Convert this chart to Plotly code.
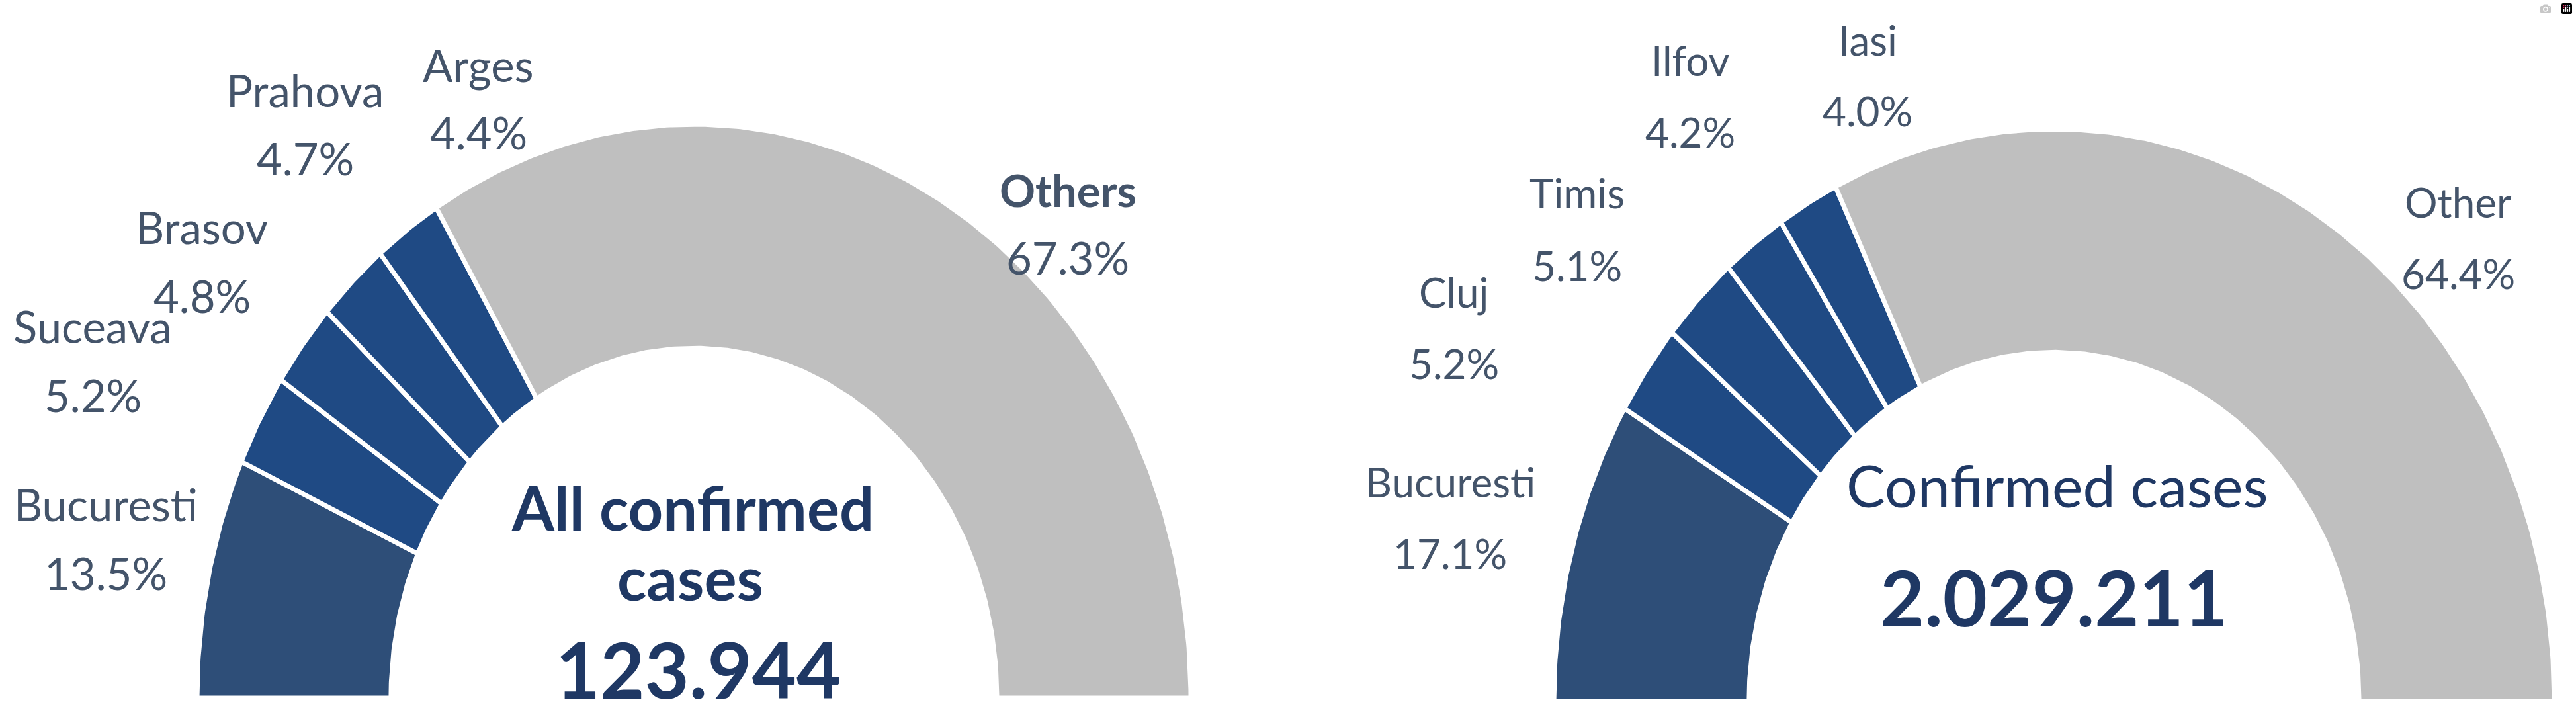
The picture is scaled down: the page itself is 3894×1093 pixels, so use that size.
import numpy as np
import plotly.graph_objects as go

# ---------------- data ----------------
left_regions = ["Bucuresti", "Suceava", "Brasov", "Prahova", "Arges", "Others"]
left_shares = [13.5, 5.2, 4.8, 4.7, 4.4, 67.3]
left_title = ["All confirmed", "cases"]
left_total = "123.944"

right_regions = ["Bucuresti", "Cluj", "Timis", "Ilfov", "Iasi", "Other"]
right_shares = [17.1, 5.2, 5.1, 4.2, 4.0, 64.4]
right_title = "Confirmed cases"
right_total = "2.029.211"

# ---------------- style / layout constants ----------------
W, H = 3894, 1093
COL_FIRST = "#2E4E78"
COL_BLUE = "#1F4A84"
COL_GREY = "#BFBFBF"
LABEL_COL = "#44546A"
TITLE_COL = "#1F3864"
FONT = "Lato"

left_geo = dict(cx=1049, cy=1055, rx=751, ry=867, hole=0.61)
right_geo = dict(cx=3105, cy=1060, rx=756, ry=865, hole=0.61)

# label placement: (x centre, y of name line, y of percentage line)
left_label_pos = [(160, 762, 866), (140, 493, 597), (305, 343, 447),
                  (461, 136, 239), (723, 98, 200), (1614, 287, 389)]
right_label_pos = [(2192, 728, 836), (2198, 441, 549), (2384, 291, 401),
                   (2555, 91, 199), (2823, 60, 167), (3716, 305, 413)]


def slice_colors(n):
    return [COL_FIRST] + [COL_BLUE] * (n - 2) + [COL_GREY]


def add_half_donut(fig, names, shares, geo):
    total = float(sum(shares))
    cum = np.concatenate([[0.0], np.cumsum(shares)]) / total
    cols = slice_colors(len(shares))
    for i, name in enumerate(names):
        f0, f1 = cum[i], cum[i + 1]
        n = max(int((f1 - f0) * 400), 12)
        th = np.pi * (1 - np.linspace(f0, f1, n))
        xo = geo["cx"] + geo["rx"] * np.cos(th)
        yo = geo["cy"] - geo["ry"] * np.sin(th)
        xi = geo["cx"] + geo["rx"] * geo["hole"] * np.cos(th[::-1])
        yi = geo["cy"] - geo["ry"] * geo["hole"] * np.sin(th[::-1])
        xs = np.concatenate([xo, xi, xo[:1]])
        ys = np.concatenate([yo, yi, yo[:1]])
        fig.add_trace(go.Scatter(
            x=xs, y=ys, mode="lines", fill="toself",
            fillcolor=cols[i], line=dict(color="white", width=7),
            name=name, hoverinfo="name", showlegend=False))


def add_labels(fig, names, shares, positions, size, bold_last):
    for i, (name, v) in enumerate(zip(names, shares)):
        x, yn, yp = positions[i]
        txt = f"<b>{name}</b>" if (bold_last and i == len(names) - 1) else name
        fig.add_annotation(x=x, y=yn, text=txt, showarrow=False,
                           font=dict(family=FONT, size=size, color=LABEL_COL))
        fig.add_annotation(x=x, y=yp, text=f"{v:.1f}%", showarrow=False,
                           font=dict(family=FONT, size=size, color=LABEL_COL))


fig = go.Figure()
add_half_donut(fig, left_regions, left_shares, left_geo)
add_half_donut(fig, right_regions, right_shares, right_geo)
add_labels(fig, left_regions, left_shares, left_label_pos, 67, True)
add_labels(fig, right_regions, right_shares, right_label_pos, 62, False)

# centre texts
fig.add_annotation(x=1047, y=766, text=f"<b>{left_title[0]}</b>", showarrow=False,
                   font=dict(family=FONT, size=92, color=TITLE_COL))
fig.add_annotation(x=1043, y=872, text=f"<b>{left_title[1]}</b>", showarrow=False,
                   font=dict(family=FONT, size=92, color=TITLE_COL))
fig.add_annotation(x=1055, y=1011, text=f"<b>{left_total}</b>", showarrow=False,
                   font=dict(family=FONT, size=116, color=TITLE_COL))
fig.add_annotation(x=3110, y=733, text=right_title, showarrow=False,
                   font=dict(family=FONT, size=88, color=TITLE_COL))
fig.add_annotation(x=3105, y=902, text=f"<b>{right_total}</b>", showarrow=False,
                   font=dict(family=FONT, size=116, color=TITLE_COL))

fig.update_xaxes(range=[0, W], visible=False, fixedrange=True)
fig.update_yaxes(range=[H, 0], visible=False, fixedrange=True)
fig.update_layout(width=W, height=H, margin=dict(l=0, r=0, t=0, b=0),
                  paper_bgcolor="white", plot_bgcolor="white", showlegend=False)

fig.write_html("out.html", post_script="document.body.style.margin='0';")
